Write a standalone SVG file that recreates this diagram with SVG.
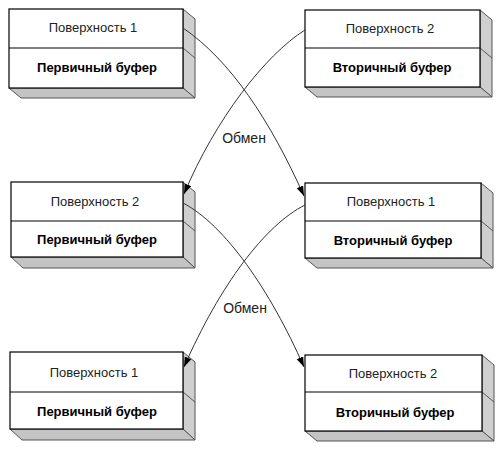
<svg xmlns="http://www.w3.org/2000/svg" width="501" height="456" viewBox="0 0 501 456">
<style>
.front{fill:#ffffff;stroke:#000;stroke-width:1.2}
.div{stroke:#000;stroke-width:1}
.side{fill:#cfcfcf;stroke:#555;stroke-width:1}
.bottom{fill:#c4c4c4;stroke:#555;stroke-width:1}
.sl{stroke:#555;stroke-width:1}
.t{font-family:"Liberation Sans",Arial,sans-serif;font-size:13px;fill:#222;text-anchor:middle}
.b{font-family:"Liberation Sans",Arial,sans-serif;font-size:13px;font-weight:bold;fill:#000;text-anchor:middle}
.conn{fill:none;stroke:#333;stroke-width:1}
.lbl{font-family:"Liberation Sans",Arial,sans-serif;font-size:14px;fill:#222;text-anchor:middle}
</style>
<defs>
<marker id="arr" markerUnits="userSpaceOnUse" markerWidth="10" markerHeight="8" refX="10" refY="3.5" orient="auto">
<path d="M0,0 L10,3.5 L0,7 z" fill="#000"/>
</marker>
</defs>
<rect width="501" height="456" fill="#fff"/>

<g id="n1">
<polygon class="side" points="183,9 195,19 195,98 183,88"/>
<polygon class="bottom" points="9,88 183,88 195,98 21,98"/>
<line class="sl" x1="183" y1="48" x2="195" y2="58"/>
<rect class="front" x="9" y="9" width="174" height="79"/>
<line class="div" x1="9" y1="48" x2="183" y2="48"/>
<text class="t" x="93" y="32">Поверхность 1</text>
<text class="b" x="97" y="72">Первичный буфер</text>
</g>

<g id="n2">
<polygon class="side" points="480,10 492,20 492,97 480,87"/>
<polygon class="bottom" points="305,87 480,87 492,97 317,97"/>
<line class="sl" x1="480" y1="48" x2="492" y2="58"/>
<rect class="front" x="305" y="10" width="175" height="77"/>
<line class="div" x1="305" y1="48" x2="480" y2="48"/>
<text class="t" x="390" y="33">Поверхность 2</text>
<text class="b" x="392" y="72">Вторичный буфер</text>
</g>

<g id="n3">
<polygon class="side" points="183,182 195,192 195,268 183,257"/>
<polygon class="bottom" points="11,257 183,257 195,268 23,268"/>
<line class="sl" x1="183" y1="221" x2="195" y2="231"/>
<rect class="front" x="11" y="182" width="172" height="75"/>
<line class="div" x1="11" y1="221" x2="183" y2="221"/>
<text class="t" x="95" y="206">Поверхность 2</text>
<text class="b" x="97" y="244">Первичный буфер</text>
</g>

<g id="n4">
<polygon class="side" points="481,183 493,193 493,268 481,258"/>
<polygon class="bottom" points="305,258 481,258 493,268 317,268"/>
<line class="sl" x1="481" y1="221" x2="493" y2="231"/>
<rect class="front" x="305" y="183" width="176" height="75"/>
<line class="div" x1="305" y1="221" x2="481" y2="221"/>
<text class="t" x="391" y="206">Поверхность 1</text>
<text class="b" x="393" y="245">Вторичный буфер</text>
</g>

<g id="n5">
<polygon class="side" points="183,352 195,362 195,440 183,429"/>
<polygon class="bottom" points="10,429 183,429 195,440 22,440"/>
<line class="sl" x1="183" y1="392" x2="195" y2="402"/>
<rect class="front" x="10" y="352" width="173" height="77"/>
<line class="div" x1="10" y1="392" x2="183" y2="392"/>
<text class="t" x="94" y="377">Поверхность 1</text>
<text class="b" x="97" y="416">Первичный буфер</text>
</g>

<g id="n6">
<polygon class="side" points="482,355 494,365 494,441 482,431"/>
<polygon class="bottom" points="305,431 482,431 494,441 317,441"/>
<line class="sl" x1="482" y1="392" x2="494" y2="402"/>
<rect class="front" x="305" y="355" width="177" height="76"/>
<line class="div" x1="305" y1="392" x2="482" y2="392"/>
<text class="t" x="393" y="378">Поверхность 2</text>
<text class="b" x="395" y="417">Вторичный буфер</text>
</g>

<g id="connectors">
<path class="conn" d="M183,28 C230,60 270,120 304,196" marker-end="url(#arr)"/>
<path class="conn" d="M305,30 C265,55 215,120 184,194" marker-end="url(#arr)"/>
<path class="conn" d="M183,203 C225,225 270,290 304,367" marker-end="url(#arr)"/>
<path class="conn" d="M305,205 C265,225 220,285 184,367" marker-end="url(#arr)"/>
<text class="lbl" x="244" y="143">Обмен</text>
<text class="lbl" x="245" y="313">Обмен</text>
</g>
</svg>
